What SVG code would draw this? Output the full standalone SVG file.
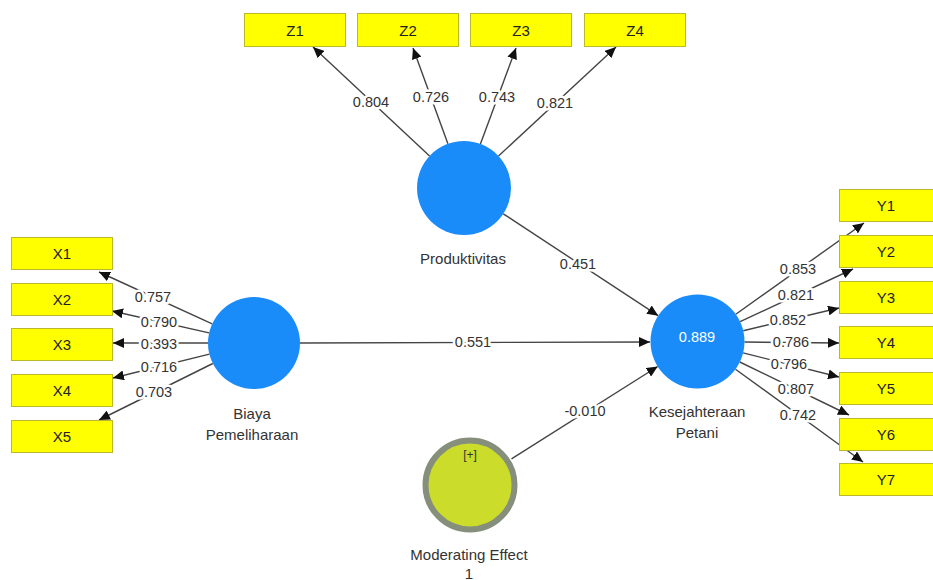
<svg xmlns="http://www.w3.org/2000/svg" width="933" height="580" viewBox="0 0 933 580">
<defs>
<marker id="arr" markerUnits="userSpaceOnUse" markerWidth="11" markerHeight="10" refX="11" refY="5" orient="auto">
<path d="M0,0 L11,5 L0,10 z" fill="#111"/>
</marker>
<style>
.ln{stroke:#444;stroke-width:1.4;fill:none;marker-end:url(#arr)}
.lb{font-family:"Liberation Sans",Arial,sans-serif;font-size:14.5px;fill:#333;text-anchor:middle;dominant-baseline:central;stroke:#fff;stroke-width:5;paint-order:stroke;stroke-linejoin:round}
.box rect{fill:#ffff00;stroke:#b9b92a;stroke-width:1}
.box text{font-family:"Liberation Sans",Arial,sans-serif;font-size:15px;fill:#222;text-anchor:middle;dominant-baseline:central}
.lv{fill:#1a8cfa}
.nl{font-family:"Liberation Sans",Arial,sans-serif;font-size:15px;fill:#333;text-anchor:middle;dominant-baseline:central}
</style>
</defs>
<rect width="933" height="580" fill="#fff"/>

<g id="connectors">
<line class="ln" x1="429.6" y1="155.9" x2="313" y2="47"/>
<line class="ln" x1="447.9" y1="143.8" x2="413" y2="48"/>
<line class="ln" x1="480.4" y1="143.9" x2="516" y2="48"/>
<line class="ln" x1="498.5" y1="156" x2="616" y2="47"/>
<line class="ln" x1="212.2" y1="323.9" x2="99" y2="272"/>
<line class="ln" x1="209.1" y1="332.9" x2="112" y2="311"/>
<line class="ln" x1="208" y1="343" x2="113" y2="343"/>
<line class="ln" x1="209.4" y1="354.1" x2="113" y2="378"/>
<line class="ln" x1="212.8" y1="363.5" x2="99" y2="420"/>
<line class="ln" x1="735.8" y1="314.2" x2="864" y2="223"/>
<line class="ln" x1="740.1" y1="321.7" x2="853" y2="269"/>
<line class="ln" x1="743.2" y1="330.7" x2="839" y2="308"/>
<line class="ln" x1="744.5" y1="342" x2="839" y2="343"/>
<line class="ln" x1="743.1" y1="352.9" x2="839" y2="377"/>
<line class="ln" x1="739.8" y1="362" x2="849" y2="415"/>
<line class="ln" x1="735.5" y1="369.2" x2="863" y2="462"/>
<line class="ln" x1="300" y1="343" x2="650" y2="342"/>
<line class="ln" x1="503.3" y1="213.8" x2="658.2" y2="315.7"/>
<line class="ln" x1="511.5" y1="458.9" x2="657.7" y2="366.5"/>
<text class="lb" x="371" y="102">0.804</text>
<text class="lb" x="431" y="97">0.726</text>
<text class="lb" x="497" y="97">0.743</text>
<text class="lb" x="555" y="103">0.821</text>
<text class="lb" x="153" y="297">0.757</text>
<text class="lb" x="159" y="322">0.790</text>
<text class="lb" x="159" y="344">0.393</text>
<text class="lb" x="159" y="367">0.716</text>
<text class="lb" x="154" y="392">0.703</text>
<text class="lb" x="798" y="269">0.853</text>
<text class="lb" x="796" y="295">0.821</text>
<text class="lb" x="788" y="320">0.852</text>
<text class="lb" x="791" y="342">0.786</text>
<text class="lb" x="789" y="364">0.796</text>
<text class="lb" x="796" y="389">0.807</text>
<text class="lb" x="798" y="415">0.742</text>
<text class="lb" x="473" y="342">0.551</text>
<text class="lb" x="578" y="264">0.451</text>
<text class="lb" x="585" y="411">-0.010</text>
</g>

<g id="Z1" class="box"><rect x="244.5" y="13.5" width="101" height="33"/><text x="295" y="30">Z1</text></g>
<g id="Z2" class="box"><rect x="357.5" y="13.5" width="101" height="33"/><text x="408" y="30">Z2</text></g>
<g id="Z3" class="box"><rect x="470.5" y="13.5" width="101" height="33"/><text x="521" y="30">Z3</text></g>
<g id="Z4" class="box"><rect x="584.5" y="13.5" width="101" height="33"/><text x="635" y="30">Z4</text></g>

<g id="X1" class="box"><rect x="11.5" y="237.5" width="101" height="32"/><text x="62" y="253.5">X1</text></g>
<g id="X2" class="box"><rect x="11.5" y="283.5" width="101" height="32"/><text x="62" y="299.5">X2</text></g>
<g id="X3" class="box"><rect x="11.5" y="328.5" width="101" height="32"/><text x="62" y="344.5">X3</text></g>
<g id="X4" class="box"><rect x="11.5" y="374.5" width="101" height="32"/><text x="62" y="390.5">X4</text></g>
<g id="X5" class="box"><rect x="11.5" y="420.5" width="101" height="32"/><text x="62" y="436.5">X5</text></g>

<g id="Y1" class="box"><rect x="839.5" y="189.5" width="101" height="32"/><text x="886" y="205.5">Y1</text></g>
<g id="Y2" class="box"><rect x="839.5" y="235.5" width="101" height="32"/><text x="886" y="251.5">Y2</text></g>
<g id="Y3" class="box"><rect x="839.5" y="281.5" width="101" height="32"/><text x="886" y="297.5">Y3</text></g>
<g id="Y4" class="box"><rect x="839.5" y="326.5" width="101" height="32"/><text x="886" y="342.5">Y4</text></g>
<g id="Y5" class="box"><rect x="839.5" y="372.5" width="101" height="32"/><text x="886" y="388.5">Y5</text></g>
<g id="Y6" class="box"><rect x="839.5" y="418.5" width="101" height="32"/><text x="886" y="434.5">Y6</text></g>
<g id="Y7" class="box"><rect x="839.5" y="463.5" width="101" height="32"/><text x="886" y="479.5">Y7</text></g>

<g id="Produktivitas"><circle class="lv" cx="464" cy="188" r="47"/><text class="nl" x="463" y="258">Produktivitas</text></g>
<g id="BiayaPemeliharaan"><circle class="lv" cx="254" cy="343" r="46"/><text class="nl" x="252" y="413">Biaya</text><text class="nl" x="252" y="434">Pemeliharaan</text></g>
<g id="KesejahteraanPetani"><circle class="lv" cx="697.5" cy="341.5" r="47"/><text x="697" y="337" font-family="Liberation Sans, Arial, sans-serif" font-size="14.5" fill="#fff" text-anchor="middle" dominant-baseline="central">0.889</text><text class="nl" x="697" y="411">Kesejahteraan</text><text class="nl" x="697" y="432">Petani</text></g>
<g id="ModeratingEffect"><circle cx="470" cy="485" r="44.5" fill="#cbdc2a" stroke="#858f7c" stroke-width="6"/><text x="470" y="455" font-family="Liberation Sans, Arial, sans-serif" font-size="12" fill="#333" text-anchor="middle" dominant-baseline="central">[+]</text><text class="nl" x="469" y="554">Moderating Effect</text><text class="nl" x="469" y="573">1</text></g>
</svg>
